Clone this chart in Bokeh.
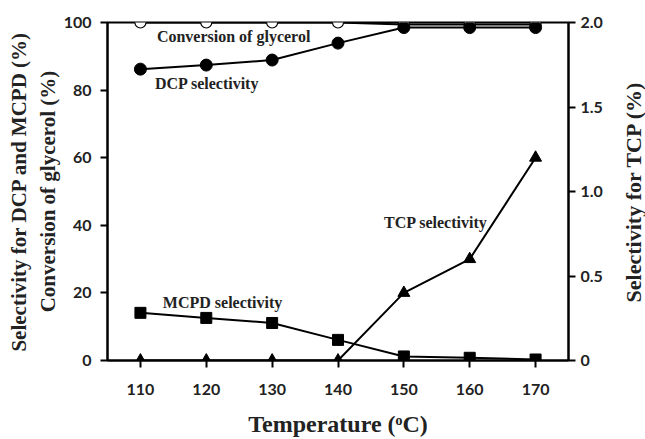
import math
from bokeh.plotting import figure
from bokeh.layouts import row
from bokeh.models import Range1d, LinearAxis, FixedTicker, Label
from bokeh.embed import file_html
from bokeh.resources import INLINE

temperature = [110, 120, 130, 140, 150, 160, 170]
conversion = [100, 100, 100, 100, 99.4, 99.4, 99.4]
dcp = [86.2, 87.4, 88.9, 93.9, 98.5, 98.5, 98.5]
mcpd = [14.1, 12.6, 11.1, 6.1, 1.2, 0.8, 0.3]
tcp = [0, 0, 0, 0, 0.4, 0.6, 1.2]
left_ticks = [0, 20, 40, 60, 80, 100]
right_ticks = [0, 0.5, 1.0, 1.5, 2.0]
right_tick_labels = ["0", "0.5", "1.0", "1.5", "2.0"]
series_names = ["Conversion of glycerol", "DCP selectivity", "MCPD selectivity", "TCP selectivity"]

TICK_FONT = "Lato"
TITLE_FONT = "Liberation Serif"

p = figure(width=605, height=439, output_backend="svg", toolbar_location=None,
           x_range=Range1d(105, 175), y_range=Range1d(0, 100),
           min_border_left=107, min_border_right=35, min_border_top=22, min_border_bottom=76,
           y_axis_location=None)
p.extra_y_ranges = {"tcp": Range1d(0, 2.0)}
p.grid.visible = False
p.outline_line_color = "black"
p.outline_line_width = 2
p.outline_line_alpha = 1.0
p.background_fill_color = "white"
p.border_fill_color = "white"


def style_axis(ax):
    ax.axis_line_width = 2
    ax.axis_line_color = "black"
    ax.major_tick_line_width = 2
    ax.major_tick_out = 7
    ax.major_tick_in = 0
    ax.minor_tick_line_color = None
    ax.major_label_text_font = TICK_FONT
    ax.major_label_text_font_style = "bold"
    ax.major_label_text_font_size = "16px"
    ax.major_label_text_color = "#222222"
    ax.axis_label_text_font = TITLE_FONT
    ax.axis_label_text_font_style = "bold"
    ax.axis_label_text_font_size = "21px"
    ax.axis_label_text_color = "#222222"


xax = p.xaxis[0]
xax.ticker = FixedTicker(ticks=temperature)
xax.axis_label = "Temperature (ᵒC)"
style_axis(xax)
xax.axis_label_text_font_size = "24px"
xax.major_label_standoff = 16
xax.axis_label_standoff = 13

yl = LinearAxis(ticker=FixedTicker(ticks=left_ticks),
                axis_label="Selectivity for DCP and MCPD (%)\nConversion of glycerol (%)")
style_axis(yl)
yl.major_label_standoff = 9
yl.axis_label_standoff = 1
p.add_layout(yl, "left")

yr = LinearAxis(y_range_name="tcp", ticker=FixedTicker(ticks=right_ticks))
yr.major_label_overrides = {t: s for t, s in zip(right_ticks, right_tick_labels)}
style_axis(yr)
yr.major_label_standoff = 5
p.add_layout(yr, "right")

# Conversion of glycerol (open circles)
p.line(temperature, conversion, line_color="black", line_width=2)
p.scatter(temperature, conversion, marker="circle", size=11, fill_color="white",
          line_color="black", line_width=1.2)
# DCP selectivity
p.line(temperature, dcp, line_color="black", line_width=2)
p.scatter(temperature, dcp, marker="circle", size=12, fill_color="black", line_color="black")
# MCPD selectivity
p.line(temperature, mcpd, line_color="black", line_width=2)
p.scatter(temperature, mcpd, marker="square", size=11, fill_color="black", line_color="black")
# TCP selectivity
p.line(temperature, tcp, line_color="black", line_width=2, y_range_name="tcp")
p.scatter(temperature, tcp, marker="triangle", size=12, fill_color="black", line_color="black",
          y_range_name="tcp")

label_pos = [(112.5, 95.9, None), (112.2, 82.1, None), (113.4, 17.3, None), (147.0, 0.816, "tcp")]
for name, (lx, ly, rng) in zip(series_names, label_pos):
    kw = dict(x=lx, y=ly, text=name, text_font=TITLE_FONT, text_font_style="bold",
              text_font_size="16px", text_baseline="middle", text_align="left",
              text_color="#222222")
    if rng:
        kw["y_range_name"] = rng
    p.add_layout(Label(**kw))

# Narrow side panel holding the right-hand axis title, read bottom to top
p2 = figure(width=40, height=439, output_backend="svg", toolbar_location=None,
            x_range=Range1d(0, 1), y_range=Range1d(0, 2.0),
            min_border_left=0, min_border_right=0, min_border_top=22, min_border_bottom=76,
            x_axis_location=None, y_axis_location=None)
p2.grid.visible = False
p2.outline_line_color = None
p2.background_fill_color = "white"
p2.border_fill_color = "white"
p2.add_layout(Label(x=0.7, y=1.0, text="Selectivity for TCP (%)",
                    angle=math.pi / 2, text_align="center", text_baseline="middle",
                    text_font=TITLE_FONT, text_font_style="bold", text_font_size="22px",
                    text_color="#222222"))

layout = row(p, p2, spacing=0)
open("out.html", "w").write(file_html(layout, INLINE))
